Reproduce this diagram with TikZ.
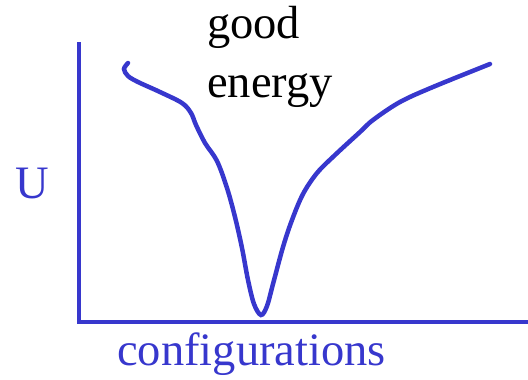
\documentclass[tikz,border=0pt]{standalone}
\usepackage{fontspec}
\setmainfont{Liberation Serif}
\definecolor{plotblue}{RGB}{55,55,205}
\begin{document}
\begin{tikzpicture}[x=1pt,y=-1pt,
  axisline/.style={draw=plotblue,line width=4.5pt},
  curveline/.style={draw=plotblue,line width=4.5pt,line cap=round},
  lbl/.style={inner sep=0pt,anchor=base west,font=\fontsize{46.5}{56}\selectfont}]
\useasboundingbox (0,0) rectangle (528,380);
\coordinate (top) at (79,42);
\coordinate (origin) at (79,322);
\coordinate (right) at (528,322);
\draw[axisline] (top) -- (origin.center) -- (right);
\draw[curveline] plot[smooth,tension=0.55] coordinates {
 (128,63) (124,69) (128,76) (138,82) (160,92) (182,103) (191,113)
 (196,125) (205,143) (217,161) (227,188) (235,217) (242,248) (248,280)
 (254,304) (261,315) (267,306) (273,284) (283,247) (292,220) (303,194)
 (317,173) (335,155) (360,132) (373,120) (400,102) (433,87) (490,64)};
\node[lbl] (good) at (207,38) {good};
\node[lbl] (energy) at (207,97) {energy};
\node[lbl,text=plotblue] (U) at (15,198) {U};
\node[lbl,text=plotblue] (conf) at (117,365) {configurations};
\end{tikzpicture}
\end{document}
